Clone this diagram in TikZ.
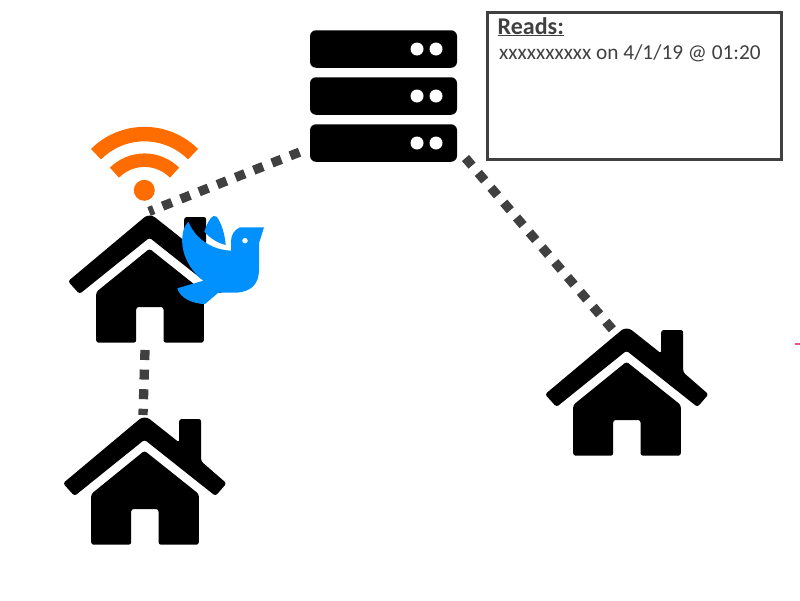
\documentclass[tikz,border=0pt]{standalone}
\usepackage{fontspec}
\setmainfont{Carlito}
\usetikzlibrary{positioning}
\definecolor{linkgray}{HTML}{404040}
\definecolor{wifiorange}{HTML}{FF6D00}
\definecolor{birdblue}{HTML}{0091FF}
\definecolor{tickpink}{HTML}{F0508A}

\begin{document}
\begin{tikzpicture}[
  x=1pt, y=-1pt,
  link/.style     = {draw=linkgray, line width=9.3pt, dash pattern=on 10pt off 9.6pt},
  serverrow/.style = {fill=black, rounded corners=6pt, minimum width=147pt,
                      minimum height=37.5pt, inner sep=0pt},
  led/.style      = {fill=white, circle, minimum size=13pt, inner sep=0pt},
  readsbox/.style = {draw=linkgray, line width=3pt, minimum width=294pt,
                     minimum height=147pt, inner sep=0pt},
  readstext/.style = {text=linkgray, inner sep=0pt, anchor=base west},
  wifiarc/.style  = {draw=wifiorange, line width=14.5pt},
  house/.pic = {
    \fill[black, rounded corners=2.5pt] (-81.5,64.3) [rounded corners=7pt] -- (0,-4)
      [rounded corners=2.5pt] -- (34.7,23.5) -- (34.7,0) -- (56.7,0) -- (56.7,42.3)
      -- (82,64.3) -- (71,77) -- (0,20.7) -- (-70,77) -- cycle;
    \fill[black, rounded corners=2.5pt] (0,31.7) -- (54.3,75) -- (54.3,125.7) -- (14,125.7)
      -- (14,90) -- (-13.3,90) -- (-13.3,125.7) -- (-53.3,125.7) -- (-53.3,75) -- cycle;
  }
]
\useasboundingbox (0,0) rectangle (800,600);

% server rack
\node[serverrow] (rowA) at (383.5,49) {};
\node[serverrow] (rowB) at (383.5,96) {};
\node[serverrow] (rowC) at (383.5,143) {};
\foreach \row in {rowA,rowB,rowC} {
  \node[led] (\row L) at ([xshift=33.5pt]\row.center) {};
  \node[led] (\row R) at ([xshift=52.5pt]\row.center) {};
}

% reads box
\node[readsbox] (reads) at (634.5,86) {};
\node[readstext, font=\fontsize{24}{28}\selectfont\bfseries] (readsTitle) at (497.5,34) {\underline{Reads:}};
\node[readstext, font=\fontsize{21.3}{25}\selectfont] (readsLine) at (499,59) {xxxxxxxxxx on 4/1/19 @ 01:20};

% houses
\pic at (149.5,217) {house};
\pic at (144.5,419) {house};
\pic at (626.5,330) {house};

% connector ends
\coordinate (homeAtop) at (149,211.5);
\coordinate (rowCleft) at (305,150);
\coordinate (rowCright) at (465.5,158);
\coordinate (homeCtop) at (613,330);
\coordinate (homeAbase) at (145,350);
\coordinate (homeBtop) at (143,415);
\draw[link, dash phase=5pt] (homeAtop) -- (rowCleft);
\draw[link, dash phase=0pt] (rowCright) -- (homeCtop);
\draw[link, dash phase=0pt] (homeAbase) -- (homeBtop);

% wifi
\node[fill=wifiorange, circle, minimum size=21pt, inner sep=0pt] (wifiDot) at (144.3,190.3) {};
\coordinate (wifiCentre) at (144.5,202.7);
\draw[wifiarc] (wifiCentre) ++(-135:68.6) arc[start angle=-135, end angle=-45, radius=68.6];
\draw[wifiarc, line width=13.5pt] (wifiCentre) ++(-135:42.5) arc[start angle=-135, end angle=-45, radius=42.5];

% bird
\begin{scope}[shift={(60,120)}, scale=1/3]
  \fill[birdblue] (612,322) -- (540,322) .. controls (522,330) and (513,345) .. (513,365)
    -- (513,392) .. controls (465,390) and (410,365) .. (385,305)
    .. controls (370,320) and (365,345) .. (367,375)
    .. controls (372,420) and (400,460) .. (430,482)
    -- (352,505) .. controls (360,535) and (400,552) .. (435,552)
    -- (475,518) -- (530,518) .. controls (575,515) and (597,490) .. (597,450)
    -- (597,370) -- cycle;
  \fill[birdblue] (460,288) .. controls (448,295) and (438,318) .. (433,335)
    .. controls (450,355) and (475,370) .. (497,375)
    .. controls (495,345) and (485,310) .. (470,290) -- cycle;
  \node[fill=white, circle, minimum size=5.5pt, inner sep=0pt] (birdEye) at (555,362) {};
\end{scope}

% stray tick
\coordinate (tickL) at (795,343.5);
\coordinate (tickR) at (800,343.5);
\draw[tickpink, line width=2pt] (tickL) -- (tickR);
\end{tikzpicture}
\end{document}
